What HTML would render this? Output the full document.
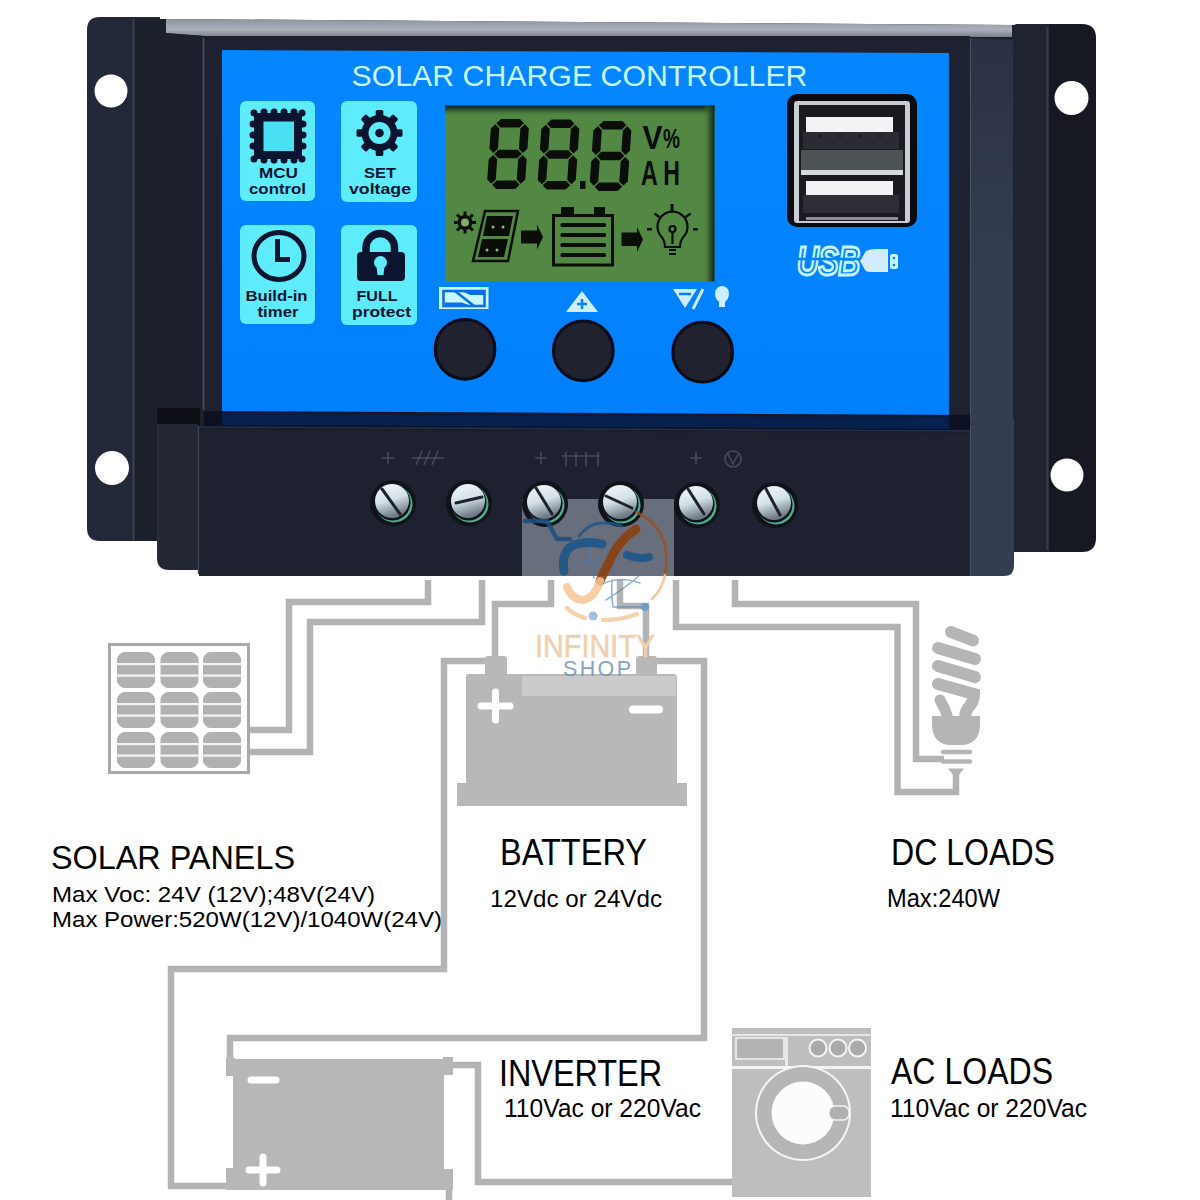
<!DOCTYPE html>
<html><head><meta charset="utf-8">
<style>
html,body{margin:0;padding:0;background:#fff;}
body{width:1200px;height:1200px;overflow:hidden;position:relative;font-family:"Liberation Sans",sans-serif;}
svg{position:absolute;left:0;top:0;display:block;}
</style></head>
<body>
<svg width="1200" height="1200" viewBox="0 0 1200 1200" font-family="Liberation Sans, sans-serif">
<rect x="0" y="0" width="1200" height="1200" fill="#ffffff"/>

<!-- ============ DIAGRAM ============ -->
<g id="diagram">
  <!-- wires -->
  <g fill="none" stroke="#b3b3b3" stroke-width="6.5" stroke-linejoin="miter">
    <path d="M428 580 V602 H289 V730 H248"/>
    <path d="M482 580 V622 H310 V752 H248"/>
    <path d="M551 580 V604 H495 V660"/>
    <path d="M620 580 V606 H646 V660"/>
    <path d="M676 580 V627 H897.5 V792 H956 V772"/>
    <path d="M735 580 V604 H916 V759 H944"/>
    <path d="M487 661 H444 V969 H171 V1186 H228"/>
    <path d="M655 661 H704 V1038 H230 V1062"/>
    <path d="M452 1065 H478 V1182 H734"/>
    <path d="M449 1188 V1200"/>
  </g>

  <!-- solar panel -->
  <rect x="109.5" y="644.5" width="139" height="128" fill="#fff" stroke="#a9a9a9" stroke-width="3"/>
  <defs>
    <g id="cell">
      <path d="M7 0 H31 Q33 0 35 2 L36 3 Q38 5 38 7 V29 Q38 31 36 33 L35 34 Q33 36 31 36 H7 Q5 36 3 34 L2 33 Q0 31 0 29 V7 Q0 5 2 3 L3 2 Q5 0 7 0 Z" fill="#b1b1b1"/>
      <rect x="0" y="11" width="38" height="2.2" fill="#f4f4f4"/>
      <rect x="0" y="22.5" width="38" height="2.2" fill="#f4f4f4"/>
    </g>
  </defs>
  <use href="#cell" x="117" y="652"/><use href="#cell" x="160.5" y="652"/><use href="#cell" x="203" y="652"/>
  <use href="#cell" x="117" y="692"/><use href="#cell" x="160.5" y="692"/><use href="#cell" x="203" y="692"/>
  <use href="#cell" x="117" y="732"/><use href="#cell" x="160.5" y="732"/><use href="#cell" x="203" y="732"/>

  <!-- battery -->
  <g fill="#b8b8b8">
    <rect x="485" y="656" width="22" height="22" rx="3"/>
    <rect x="636" y="656" width="21" height="22" rx="3"/>
    <rect x="466" y="674" width="211" height="114" rx="3"/>
    <rect x="457" y="783" width="230" height="23"/>
  </g>
  <rect x="522" y="676" width="154" height="20" fill="#cbcbcb"/>
  <path d="M495.5 692 V720 M481 706 H510" stroke="#fff" stroke-width="7" stroke-linecap="round"/>
  <path d="M633 709.5 H659" stroke="#fff" stroke-width="8" stroke-linecap="round"/>

  <!-- CFL bulb -->
  <g stroke="#b5b5b5" stroke-width="12" stroke-linecap="round" fill="none">
    <path d="M951 632 L973 640.5"/>
    <path d="M938 648 L975 659"/>
    <path d="M938 666 L975 677"/>
    <path d="M938 684 L974 694 Q974 702 968 708 Q965 712 965 718" />
    <path d="M940 700 Q945 708 948 718" stroke-width="11"/>
  </g>
  <path d="M932 716 H980 V724 Q980 745 960 745 H952 Q932 745 932 724 Z" fill="#b5b5b5"/>
  <g stroke="#b5b5b5" stroke-width="4.5" stroke-linecap="round">
    <path d="M943 752 H970"/><path d="M943 761.5 H970"/>
  </g>
  <path d="M948 768.5 H964 L959 775 H953 Z" fill="#b5b5b5"/>
  <!-- inverter -->
  <g fill="#b7b7b7">
    <rect x="233" y="1059" width="211" height="131"/>
    <rect x="226" y="1058" width="9" height="18"/>
    <rect x="443" y="1057" width="10" height="18"/>
    <rect x="226" y="1168" width="9" height="22"/>
    <rect x="443" y="1169" width="10" height="21"/>
  </g>
  <path d="M251 1080 H276" stroke="#fff" stroke-width="7" stroke-linecap="round"/>
  <path d="M263 1157 V1183 M249 1170 H277" stroke="#fff" stroke-width="7" stroke-linecap="round"/>

  <!-- washing machine -->
  <rect x="732" y="1028" width="139" height="169" fill="#bebebe"/>
  <rect x="732" y="1034" width="139" height="2" fill="#e6e6e6"/>
  <rect x="732" y="1066" width="139" height="3" fill="#f4f4f4"/>
  <rect x="736" y="1038" width="48" height="21" fill="#b4b4b4" stroke="#f0f0f0" stroke-width="1.6"/>
  <rect x="785" y="1037" width="3" height="29" fill="#e8e8e8"/>
  <g fill="#aaaaaa" stroke="#f4f4f4" stroke-width="2">
    <circle cx="818" cy="1048" r="8.5"/><circle cx="838" cy="1048" r="8.5"/><circle cx="857.5" cy="1048" r="8.5"/>
  </g>
  <circle cx="803" cy="1113" r="48" fill="#f6f6f6"/>
  <circle cx="803" cy="1113" r="46" fill="#b6b6b6"/>
  <circle cx="803" cy="1113" r="31.5" fill="#fcfcfc"/>
  <rect x="829" y="1106" width="20" height="14" rx="6" fill="#b0b0b0" stroke="#f4f4f4" stroke-width="1.5"/>

  <!-- labels -->
  <g fill="#000000">
    <text x="51" y="869" font-size="34" textLength="244" lengthAdjust="spacingAndGlyphs">SOLAR PANELS</text>
    <text x="52" y="901.5" font-size="22" textLength="323" lengthAdjust="spacingAndGlyphs">Max Voc: 24V (12V);48V(24V)</text>
    <text x="52" y="927" font-size="22" textLength="390" lengthAdjust="spacingAndGlyphs">Max Power:520W(12V)/1040W(24V)</text>
    <text x="500" y="865" font-size="36" textLength="147" lengthAdjust="spacingAndGlyphs">BATTERY</text>
    <text x="490" y="906.5" font-size="24.5" textLength="172" lengthAdjust="spacingAndGlyphs">12Vdc or 24Vdc</text>
    <text x="891" y="865" font-size="36" textLength="164" lengthAdjust="spacingAndGlyphs">DC LOADS</text>
    <text x="887" y="907" font-size="25" textLength="113" lengthAdjust="spacingAndGlyphs">Max:240W</text>
    <text x="499" y="1086" font-size="37" textLength="163" lengthAdjust="spacingAndGlyphs">INVERTER</text>
    <text x="504" y="1117" font-size="25" textLength="197" lengthAdjust="spacingAndGlyphs">110Vac or 220Vac</text>
    <text x="891" y="1084" font-size="36" textLength="162" lengthAdjust="spacingAndGlyphs">AC LOADS</text>
    <text x="890" y="1117" font-size="25" textLength="197" lengthAdjust="spacingAndGlyphs">110Vac or 220Vac</text>
  </g>
</g>

<!-- ============ CONTROLLER BODY ============ -->
<g id="body">
  <defs>
    <linearGradient id="topg" x1="0" y1="0" x2="0" y2="1">
      <stop offset="0" stop-color="#8f94a0"/>
      <stop offset="0.6" stop-color="#aab0ba"/>
      <stop offset="1" stop-color="#7a808c"/>
    </linearGradient>
    <linearGradient id="sideg" x1="0" y1="0" x2="0" y2="1">
      <stop offset="0" stop-color="#2b3144"/>
      <stop offset="0.6" stop-color="#343d51"/>
      <stop offset="1" stop-color="#343d51"/>
    </linearGradient>
    <linearGradient id="blueg" x1="0" y1="0" x2="0" y2="1">
      <stop offset="0" stop-color="#0686fe"/>
      <stop offset="1" stop-color="#0080fd"/>
    </linearGradient>
  </defs>
  <!-- left mounting tab -->
  <path d="M100 17 H160 V541 H100 Q87 541 87 528 V30 Q87 17 100 17 Z" fill="#222837"/>
  <!-- right mounting tab -->
  <path d="M1049 24 H1082 Q1096 24 1096 38 V538 Q1096 552 1082 552 H1049 Z" fill="#161822"/>
  <!-- main body -->
  <path d="M135 19 H166 L1012 25 L1049 24 V541 H135 Z" fill="#1c202a"/>
  <path d="M1008 30 L1016 24 H1049 V552 H1010 Z" fill="#202430"/>
  <line x1="133.5" y1="19" x2="133.5" y2="540" stroke="#3a3f4c" stroke-width="2"/>
  <line x1="1047.5" y1="27" x2="1047.5" y2="550" stroke="#3a3d4a" stroke-width="2"/>
  <!-- top surface -->
  <path d="M166 19 L1012 25 L1012 37 L204 36 L166 33 Z" fill="url(#topg)"/>
  <!-- bezel -->
  <path d="M164 33 L204 36 L204 410 L164 410 Z" fill="#1e202d"/>
  <rect x="204" y="36" width="766" height="388" fill="#1e2130"/>
  <line x1="203.5" y1="38" x2="203.5" y2="410" stroke="#4a505c" stroke-width="1.6"/>
  <!-- right side face -->
  <path d="M970 38 L1013 40 L1013 430 L970 430 Z" fill="url(#sideg)"/>
  <line x1="970.5" y1="38" x2="970.5" y2="428" stroke="#4a5262" stroke-width="1.2"/>
  <!-- blue face -->
  <path d="M222 50 L949 53 V416 L222 412 Z" fill="url(#blueg)"/>
  <path d="M204 411 L970 415 V432 L204 428 Z" fill="#0c1020"/>
  <path d="M222 412 L949 416 V429 L222 425 Z" fill="#07204e"/>
  <path d="M222 412 L949 416 V418 L222 414 Z" fill="#101a35"/>
</g>

<!-- ============ FACE ============ -->
<g id="face">
  <text x="351.5" y="86" font-size="30" fill="#c8f8fc" textLength="456" lengthAdjust="spacingAndGlyphs">SOLAR CHARGE CONTROLLER</text>

  <!-- tiles -->
  <rect x="240" y="101" width="75" height="100" rx="6" fill="#5eebfa"/>
  <rect x="341" y="101" width="76" height="101" rx="6" fill="#5eebfa"/>
  <rect x="240" y="225" width="75" height="99" rx="6" fill="#5eebfa"/>
  <rect x="341" y="225" width="76" height="100" rx="6" fill="#5eebfa"/>

  <!-- MCU chip icon -->
  <g fill="#0b1530">
    <rect x="254" y="113" width="48" height="46"/>
  </g>
  <g fill="#0b1530">
    <circle cx="254" cy="113" r="3.5"/><circle cx="264" cy="112" r="3.5"/><circle cx="274" cy="112" r="3.5"/><circle cx="284" cy="112" r="3.5"/><circle cx="294" cy="112" r="3.5"/><circle cx="302" cy="113" r="3.5"/>
    <circle cx="254" cy="159" r="3.5"/><circle cx="264" cy="160" r="3.5"/><circle cx="274" cy="160" r="3.5"/><circle cx="284" cy="160" r="3.5"/><circle cx="294" cy="160" r="3.5"/><circle cx="302" cy="159" r="3.5"/>
    <circle cx="253" cy="124" r="3.5"/><circle cx="253" cy="135" r="3.5"/><circle cx="253" cy="146" r="3.5"/>
    <circle cx="303" cy="124" r="3.5"/><circle cx="303" cy="135" r="3.5"/><circle cx="303" cy="146" r="3.5"/>
  </g>
  <rect x="263.5" y="121.5" width="30.5" height="29.5" fill="#48e0f2"/>
  <text x="278.5" y="177.5" font-size="15.5" font-weight="bold" fill="#0b1530" text-anchor="middle" lengthAdjust="spacingAndGlyphs" textLength="39">MCU</text>
  <text x="277.5" y="194" font-size="15.5" font-weight="bold" fill="#0b1530" text-anchor="middle" lengthAdjust="spacingAndGlyphs" textLength="57">control</text>

  <!-- gear icon -->
  <g fill="#0b1530" transform="translate(379.5 133)">
    <circle r="18"/>
    <rect x="-3.8" y="-23" width="7.6" height="46" rx="1.5"/>
    <rect x="-3.8" y="-23" width="7.6" height="46" rx="1.5" transform="rotate(45)"/>
    <rect x="-3.8" y="-23" width="7.6" height="46" rx="1.5" transform="rotate(90)"/>
    <rect x="-3.8" y="-23" width="7.6" height="46" rx="1.5" transform="rotate(135)"/>
    <circle r="11" fill="#5eebfa"/>
    <circle r="4.3"/>
  </g>
  <text x="380" y="178" font-size="15.5" font-weight="bold" fill="#0b1530" text-anchor="middle" lengthAdjust="spacingAndGlyphs" textLength="32">SET</text>
  <text x="380" y="194" font-size="15.5" font-weight="bold" fill="#0b1530" text-anchor="middle" lengthAdjust="spacingAndGlyphs" textLength="62">voltage</text>

  <!-- clock icon -->
  <ellipse cx="279" cy="256" rx="25" ry="23.5" fill="none" stroke="#0b1530" stroke-width="5"/>
  <path d="M277.5 239 V259.5 H290" fill="none" stroke="#0b1530" stroke-width="5"/>
  <text x="276.5" y="300.5" font-size="15.5" font-weight="bold" fill="#0b1530" text-anchor="middle" lengthAdjust="spacingAndGlyphs" textLength="62">Build-in</text>
  <text x="278" y="317" font-size="15.5" font-weight="bold" fill="#0b1530" text-anchor="middle" lengthAdjust="spacingAndGlyphs" textLength="41">timer</text>

  <!-- lock icon -->
  <path d="M366 255 V247.75 A14.25 14.25 0 0 1 394.5 247.75 V255" fill="none" stroke="#0b1530" stroke-width="7.5"/>
  <rect x="357" y="252" width="48" height="29" rx="4" fill="#0b1530"/>
  <circle cx="380.5" cy="262.5" r="6.5" fill="#5eebfa"/>
  <path d="M376.5 266 L384.5 266 L383.5 275 L377.5 275 Z" fill="#5eebfa"/>
  <text x="377" y="301" font-size="15.5" font-weight="bold" fill="#0b1530" text-anchor="middle" lengthAdjust="spacingAndGlyphs" textLength="41">FULL</text>
  <text x="381.5" y="317" font-size="15.5" font-weight="bold" fill="#0b1530" text-anchor="middle" lengthAdjust="spacingAndGlyphs" textLength="59">protect</text>

  <!-- LCD -->
  <defs>
    <linearGradient id="lcdt" x1="0" y1="0" x2="0" y2="1">
      <stop offset="0" stop-color="#082530" stop-opacity="1"/>
      <stop offset="0.3" stop-color="#1c3e26" stop-opacity="0.9"/>
      <stop offset="1" stop-color="#538844" stop-opacity="0"/>
    </linearGradient>
    <linearGradient id="lcdr" x1="0" y1="0" x2="1" y2="0">
      <stop offset="0" stop-color="#538844" stop-opacity="0"/>
      <stop offset="0.6" stop-color="#2c4a26" stop-opacity="0.8"/>
      <stop offset="1" stop-color="#062622" stop-opacity="1"/>
    </linearGradient>
  </defs>
  <rect x="445" y="105.5" width="269.5" height="176" fill="#538844"/>
  <rect x="445" y="105.5" width="269.5" height="11" fill="url(#lcdt)"/>
  <rect x="703" y="105.5" width="11.5" height="176" fill="url(#lcdr)"/>
  <defs>
    <g id="d8">
      <polygon points="5.25,4.25 9.50,0.00 28.50,0.00 32.75,4.25 28.50,8.50 9.50,8.50"/>
      <polygon points="5.25,35.00 9.50,30.75 28.50,30.75 32.75,35.00 28.50,39.25 9.50,39.25"/>
      <polygon points="5.25,65.75 9.50,61.50 28.50,61.50 32.75,65.75 28.50,70.00 9.50,70.00"/>
      <polygon points="4.25,5.25 8.50,9.50 8.50,29.75 4.25,34.00 0.00,29.75 0.00,9.50"/>
      <polygon points="33.75,5.25 38.00,9.50 38.00,29.75 33.75,34.00 29.50,29.75 29.50,9.50"/>
      <polygon points="4.25,36.00 8.50,40.25 8.50,60.50 4.25,64.75 0.00,60.50 0.00,40.25"/>
      <polygon points="33.75,36.00 38.00,40.25 38.00,60.50 33.75,64.75 29.50,60.50 29.50,40.25"/>
    </g>
  </defs>
  <g fill="#0a0d08">
    <use href="#d8" transform="translate(491.5 119) skewX(-4)"/>
    <use href="#d8" transform="translate(542 119.5) skewX(-4)"/>
    <use href="#d8" transform="translate(594 121) skewX(-4)"/>
    <rect x="580" y="181" width="5.5" height="8"/>
    <text x="642.5" y="148.5" font-size="34" font-weight="bold" textLength="20" lengthAdjust="spacingAndGlyphs">V</text>
    <text x="663" y="148" font-size="28" font-weight="bold" textLength="17" lengthAdjust="spacingAndGlyphs">%</text>
    <text x="641" y="185" font-size="35" font-weight="bold" textLength="39" lengthAdjust="spacingAndGlyphs">A H</text>
  </g>
  <!-- sun -->
  <g transform="translate(465 222.5)" fill="#0a0d08">
    <circle r="7.5"/>
    <g stroke="#0a0d08" stroke-width="3">
      <line x1="0" y1="-11" x2="0" y2="11"/><line x1="-11" y1="0" x2="11" y2="0"/>
      <line x1="-8" y1="-8" x2="8" y2="8"/><line x1="-8" y1="8" x2="8" y2="-8"/>
    </g>
    <circle r="4" fill="#7fae6a"/>
  </g>
  <!-- solar panel -->
  <g>
    <polygon points="485,211 518,211 508,261 473,261" fill="none" stroke="#0a0d08" stroke-width="2.5"/>
    <polygon points="487,216 513,216 509,236 483,236" fill="#0a0d08"/>
    <polygon points="482,239 508,239 504,257 478,257" fill="#0a0d08"/>
    <g fill="#8fbf7a"><circle cx="493" cy="227" r="1.5"/><circle cx="503" cy="227" r="1.5"/><circle cx="487" cy="250" r="1.5"/><circle cx="497" cy="250" r="1.5"/></g>
  </g>
  <!-- arrows -->
  <path d="M521 230.5 H537 V224.5 L543 237 L537 249.5 V243.5 H521 Z" fill="#0a0d08"/>
  <path d="M621.5 232.5 H637 V227 L643 239.5 L637 252 V246 H621.5 Z" fill="#0a0d08"/>
  <!-- battery -->
  <rect x="553.5" y="215.5" width="59" height="49.5" fill="none" stroke="#0a0d08" stroke-width="3"/>
  <rect x="561" y="207" width="13" height="8" fill="#0a0d08"/>
  <rect x="594" y="207" width="11" height="8" fill="#0a0d08"/>
  <g fill="#0a0d08"><rect x="560.5" y="223" width="45.5" height="4" rx="1.5"/><rect x="560.5" y="233" width="45.5" height="4" rx="1.5"/><rect x="560.5" y="243" width="45.5" height="4" rx="1.5"/><rect x="560.5" y="253" width="45.5" height="4" rx="1.5"/></g>
  <!-- bulb -->
  <g fill="none" stroke="#0a0d08" stroke-width="2.2">
    <path d="M665 247 Q665 240 660 235 A15 15 0 1 1 685 235 Q680 240 680 247 Z"/>
    <path d="M669 250 H676 M669 254 H676"/>
    <path d="M672.5 244 V232"/>
    <circle cx="672.5" cy="229" r="3"/>
  </g>
  <g fill="#0a0d08">
    <rect x="670.5" y="204" width="3" height="7"/>
    <rect x="654" y="214" width="6" height="2.5" transform="rotate(35 657 215)"/>
    <rect x="685" y="214" width="6" height="2.5" transform="rotate(-35 688 215)"/>
    <rect x="647" y="228" width="5" height="2.5"/>
    <rect x="693" y="228" width="5" height="2.5"/>
  </g>

  <!-- buttons -->
  <circle cx="465" cy="349.3" r="29.8" fill="#20222f" stroke="#0a0c1a" stroke-width="3.2"/>
  <circle cx="583.3" cy="350.8" r="29.8" fill="#20222f" stroke="#0a0c1a" stroke-width="3.2"/>
  <circle cx="702.7" cy="352.2" r="29.8" fill="#20222f" stroke="#0a0c1a" stroke-width="3.2"/>

  <!-- button labels -->
  <rect x="439" y="287" width="49.5" height="22" fill="#c8f6ff"/>
  <rect x="443.5" y="291" width="41" height="15" fill="none" stroke="#0a6ee6" stroke-width="2.6"/>
  <path d="M445 302.5 H462 L471 306 H445 Z" fill="#0a6ee6"/>
  <path d="M462 291 H484 V295 H470 Z" fill="#0a6ee6"/>
  <path d="M455 291 L474 306" stroke="#0a6ee6" stroke-width="2.6"/>
  <path d="M582 291 L598 312 H566 Z" fill="#cdeeff"/>
  <path d="M582 299 V309 M577 304 H587" stroke="#0583fd" stroke-width="2.5"/>
  <path d="M673 289 H697 L685 308 Z" fill="#cdeeff"/>
  <path d="M679 294 H691" stroke="#0583fd" stroke-width="2.5"/>
  <path d="M703 289 L693 309" stroke="#cdeeff" stroke-width="3"/>
  <path d="M715 293 A7 7 0 0 1 729 293 Q729 299 725 302 V307 H719 V302 Q715 299 715 293 Z" fill="#cdeeff"/>

  <!-- USB -->
  <rect x="787" y="94" width="130" height="133" rx="10" fill="#0b0c12"/>
  <rect x="794" y="101" width="116" height="122" rx="3" fill="#c9ccd2"/>
  <rect x="799" y="105" width="106" height="116" fill="#1a1b20"/>
  <rect x="806" y="117" width="87" height="15" fill="#f2f3f5"/>
  <rect x="803" y="132" width="96" height="17" fill="#2b2c33"/>
  <rect x="801" y="150" width="102" height="24" fill="#4d5257"/>
  <rect x="801" y="170" width="102" height="5" fill="#d5d8dc"/>
  <rect x="806" y="181" width="87" height="14" fill="#f2f3f5"/>
  <rect x="803" y="195" width="96" height="18" fill="#2e2f36"/>
  <rect x="806" y="217" width="92" height="3" fill="#8a8d94"/>
  <g fill="#1a1b20">
    <circle cx="820" cy="136" r="1.5"/><circle cx="840" cy="136" r="1.5"/><circle cx="860" cy="136" r="1.5"/><circle cx="880" cy="136" r="1.5"/>
  </g>
  <!-- USB logo -->
  <text x="797" y="274.5" font-size="40" font-style="italic" font-weight="bold" fill="#0583fd" stroke="#c5f4ff" stroke-width="3" textLength="63" lengthAdjust="spacingAndGlyphs">USB</text>
  <path d="M796 259 H866" stroke="#0583fd" stroke-width="2.5"/>
  <path d="M860 261 L866 251 Q870 249 876 249 H888 V272 H870 Q865 272 864 268 Z" fill="#d2ecfb"/>
  <rect x="890" y="254" width="8" height="15" rx="2" fill="#c5f4ff"/>
  <circle cx="894" cy="258" r="1.3" fill="#0583fd"/><circle cx="894" cy="265" r="1.3" fill="#0583fd"/>
</g>

<!-- ============ TERMINAL BLOCK ============ -->
<g id="terminal">
  <path d="M157 408 H200 V426 H157 Z" fill="#0e1016"/>
  <path d="M157 424 H198 V570 H169 Q157 570 157 558 Z" fill="#232633"/>
  <line x1="198.5" y1="426" x2="198.5" y2="574" stroke="#3d4454" stroke-width="1.5"/>
  <line x1="158" y1="426" x2="158" y2="556" stroke="#2e3340" stroke-width="1.2"/>
  <path d="M199 430 L970 434 V576 H199 Z" fill="#1e2130"/>
  <line x1="199" y1="427" x2="970" y2="431" stroke="#25324a" stroke-width="1.5"/>
  <path d="M970 418 H1014 V566 Q1014 576 1004 576 H970 Z" fill="#343d51"/>
  <line x1="970.5" y1="426" x2="970.5" y2="576" stroke="#4a5262" stroke-width="1.2"/>
  <defs>
    <linearGradient id="hg" x1="0" y1="0" x2="0.3" y2="1">
      <stop offset="0" stop-color="#f3f8fb"/>
      <stop offset="0.55" stop-color="#d4e0e8"/>
      <stop offset="1" stop-color="#6f7b86"/>
    </linearGradient>
    <g id="screw">
      <circle cx="1" cy="2" r="23" fill="#11131a"/>
      <circle cx="2" cy="3" r="18.5" fill="#4fae8e"/>
      <circle cx="0.5" cy="1.5" r="18" fill="#10131a"/>
      <circle cx="0" cy="0" r="17" fill="url(#hg)"/>
    </g>
  </defs>
  <rect x="522" y="499" width="152" height="77" fill="#8e94a2" opacity="0.68"/>
  <use href="#screw" x="392" y="501"/>
  <use href="#screw" x="468" y="501"/>
  <use href="#screw" x="544" y="502"/>
  <use href="#screw" x="620" y="502"/>
  <use href="#screw" x="696" y="503"/>
  <use href="#screw" x="774" y="503"/>
  <g stroke="#20232c" stroke-width="3" stroke-linecap="round">
    <line x1="382" y1="489" x2="400" y2="514"/>
    <line x1="456" y1="503" x2="482" y2="497"/>
    <line x1="536" y1="488" x2="552" y2="514"/>
    <line x1="606" y1="496" x2="632" y2="508"/>
    <line x1="688" y1="489" x2="704" y2="514"/>
    <line x1="766" y1="489" x2="780" y2="515"/>
  </g>
  <!-- mounting holes -->
  <g fill="#ffffff">
    <circle cx="111" cy="91" r="16.5"/>
    <circle cx="112" cy="468" r="17"/>
    <circle cx="1071.5" cy="98" r="17"/>
    <circle cx="1067" cy="475" r="16.5"/>
  </g>
  <!-- faint embossed markings -->
  <g fill="none" stroke="#4a5060" stroke-width="1.6" opacity="0.9">
    <path d="M382 458 H394 M388 452 V464"/>
    <path d="M416 465 L422 451 M424 465 L430 451 M432 465 L438 451 M412 458 H444"/>
    <path d="M535 458 H547 M541 452 V464"/>
    <path d="M566 452 V466 M576 452 V466 M586 452 V466 M598 452 V466 M562 456 H600"/>
    <path d="M690 458 H702 M696 452 V464"/>
    <circle cx="733" cy="459" r="8"/>
    <path d="M728 454 L733 464 L738 454"/>
  </g>
</g>


<!-- ============ WATERMARK ============ -->
<g id="watermark">
  <g fill="none" stroke-linecap="round">
    <!-- globe thin lines -->
    <path d="M579 536 Q590 522 604 523 Q615 523 621 526" stroke="#1f5588" stroke-width="3" opacity="0.85"/>
    <path d="M592 534 Q588 555 594 578 M570 566 Q585 560 600 563 M612 580 Q611 595 613 607 H644 M600 585 Q620 575 640 583 M606 600 Q625 588 640 575" stroke="#4a7fb8" stroke-width="1.6" opacity="0.6"/>
    <!-- blue ribbon top-left -->
    <path d="M525 521 H547 L557 539 H570" stroke="#1f4f80" stroke-width="4.5" opacity="0.9" stroke-linejoin="round"/>
    <!-- blue swoosh -->
    <path d="M564 571 Q561 553 572 546 Q585 540 602 544" stroke="#1f5588" stroke-width="9" opacity="0.92"/>
    <path d="M627 555 Q640 560 649 557" stroke="#1f5588" stroke-width="8" opacity="0.9"/>
    <!-- orange f -->
    <path d="M636 529 Q620 540 612 556 Q604 572 600 581" stroke="#8a4010" stroke-width="9" opacity="0.92"/>
    <path d="M600 581 Q595 597 584 600 Q572 600 567 587" stroke="#f6c597" stroke-width="8" opacity="0.85"/>
    <!-- orange circle arc -->
    <path d="M636 512 Q658 522 665 545 Q668 562 665 575" stroke="#9a5020" stroke-width="2.6" opacity="0.85"/>
    <path d="M665 575 Q663 588 652 599" stroke="#f3c193" stroke-width="2.6" opacity="0.85"/>
    <!-- bottom smile -->
    <path d="M567 608 Q574 615 585 618" stroke="#f5c9a2" stroke-width="4.5" opacity="0.85"/>
    <path d="M603 620 Q622 620 637 614" stroke="#f5c9a2" stroke-width="4.5" opacity="0.85"/>
  </g>
  <circle cx="593" cy="616" r="4.5" fill="#9dbfe0" opacity="0.95"/>
  <circle cx="645" cy="607" r="4" fill="#6d9bc8" opacity="0.95"/>
  <text x="535" y="656.5" font-size="31" fill="#f1d0b2" stroke="#f1d0b2" stroke-width="0.6" textLength="120" lengthAdjust="spacingAndGlyphs">INFINITY</text>
  <text x="563" y="675.5" font-size="21.5" fill="#7694b4" opacity="0.85" textLength="68" lengthAdjust="spacing">SHOP</text>
</g>
</svg>
</body></html>
